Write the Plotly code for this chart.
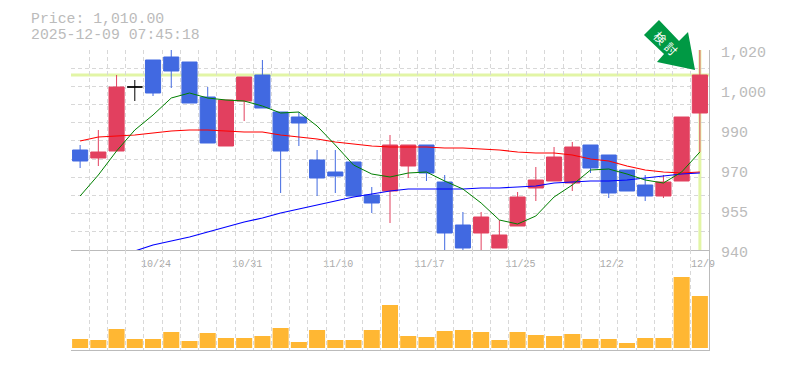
import plotly.graph_objects as go

dates = ["10/20","10/21","10/22","10/23","10/24","10/27","10/28","10/29","10/30","10/31",
         "11/4","11/5","11/6","11/7","11/10","11/11","11/12","11/13","11/14","11/17",
         "11/18","11/19","11/20","11/21","11/25","11/26","11/27","11/28","12/1","12/2",
         "12/3","12/4","12/5","12/8","12/9"]
opens = [980,976.8,979.6,1005.2,1016,1017.2,1015.2,1001.2,981.6,999.6,
         1010,995.2,993.2,976,971.2,975.2,962,963.6,973.6,982,
         967.2,950,946.8,940.8,949.6,964.8,967.6,966.8,982,978,
         972,966,961.6,967.6,994.8]
highs = [982,988,1010,1008,1016,1020,1015.2,1005.2,1000,1009.2,
         1016,995.2,995.2,980,980,975.2,965.2,986,982,982,
         970,955.2,955.2,952,963.2,973.2,981.2,983.2,982,978,
         972,970,970,993.2,1020]
lows = [972.8,973.6,979.6,999.6,1001.6,1004.8,998.8,982.8,981.6,991.6,
        996.8,962.8,981.6,961.6,962.8,961.6,954.8,950.8,968.8,967.6,
        940,940,940,940.8,949.6,959.6,967.6,963.6,970.8,960.8,
        963.6,959.6,960.8,967.6,979.2]
closes = [975.6,979.2,1005.2,1005.2,1002.8,1011.6,998.8,982.8,1000,1009.2,
          996.8,979.6,990.8,968.8,969.6,961.6,958.8,982,982,970.8,
          946.8,940.8,953.2,946,961.2,968,977.2,981.2,972.8,962.8,
          963.6,961.6,967.2,993.2,1010]
ma_green = [961.6,970,979.6,988,994,1000.8,1002.8,1000.8,1000,999.6,
            997.6,994.8,995.2,989.6,982,974,970.4,969.2,970.8,971.2,
            967.6,964.4,958.8,952,950.4,953.6,961.2,966,972,972.4,
            970.4,968,966.8,971.2,979.2]
ma_red = [983.6,985.2,985.6,986,986.8,987.6,988,988,987.6,987.2,
          987.2,986,985.2,984.4,983.2,982.4,981.6,981.2,981.2,981.2,
          980.8,980.8,980.4,980,979.2,978.8,978.8,978,976.4,975.6,
          973.6,972,971.2,970.8,971.2]
ma_blue = [None,None,None,939.6,942,943.6,945.2,947.2,949.2,951.2,
           952.8,954.8,956.4,958,959.6,961.2,962.4,963.6,964.4,964.4,
           964.4,964.4,964.8,964.8,965.2,965.6,966.8,967.2,967.6,967.6,
           968,968.8,969.6,970.4,970.8]
volumes = [9,8,19,9,9,16,7,15,10,10,12,20,6,18,8,8,18,43,12,11,
           17,18,16,8,16,13,12,14,9,9,5,10,10,71,52]
labelled_dates = ["10/24","10/31","11/10","11/17","11/25","12/2","12/9"]
price_tick_values = [1020,1004,988,972,956,940]
price_tick_labels = ["1,020","1,000","990","970","955","940"]
price_title = "Price: 1,010.00"
time_title = "2025-12-09 07:45:18"
arrow_text = "検討"

UP = "#E2405F"
DOWN = "#4169E1"
GRID = "#D8D8D8"
AXIS = "#BBBBBB"
TEXT = "#BBBBBB"
HILITE = "#E2F5A6"
FONT = "Liberation Mono"
W, H = 785, 370
L, R, T, B = 71, 709, 50, 350

def px(x):
    return (x - L) / (R - L)
def py(y):
    return (B - y) / (B - T)

x = list(range(len(dates)))
is_doji = [o == c for o, c in zip(opens, closes)]
def pick(arr, doji):
    return [v if d == doji else None for v, d in zip(arr, is_doji)]

fig = go.Figure()
for vals, col in ((ma_red, "#FF0000"), (ma_blue, "#0000FF")):
    fig.add_trace(go.Scatter(x=x, y=vals, mode="lines", line=dict(color=col, width=1.1), xaxis="x", yaxis="y", hoverinfo="skip"))
fig.add_trace(go.Scatter(x=x, y=ma_green, mode="lines", line=dict(color="#008000", width=1), xaxis="x", yaxis="y", hoverinfo="skip"))
fig.add_trace(go.Candlestick(x=x, open=pick(opens, False), high=pick(highs, False), low=pick(lows, False), close=pick(closes, False),
                             increasing=dict(line=dict(color=UP, width=1), fillcolor=UP),
                             decreasing=dict(line=dict(color=DOWN, width=1), fillcolor=DOWN),
                             whiskerwidth=0, xaxis="x", yaxis="y"))
fig.add_trace(go.Candlestick(x=x, open=pick(opens, True), high=pick(highs, True), low=pick(lows, True), close=pick(closes, True),
                             increasing=dict(line=dict(color="#000000", width=1), fillcolor="#000000"),
                             decreasing=dict(line=dict(color="#000000", width=1), fillcolor="#000000"),
                             whiskerwidth=0, xaxis="x", yaxis="y"))
fig.add_trace(go.Bar(x=x, y=volumes, marker=dict(color="#FFB733", line=dict(width=0)), width=0.88, xaxis="x2", yaxis="y2", hoverinfo="skip"))

boundaries = [i - 0.5 for i in x] + [x[-1] + 0.5]
price_grid = [940 + 80 * k / 11 for k in range(12)]
label_pos = [dates.index(d) for d in labelled_dates]
minor_x = dict(tickmode="array", tickvals=boundaries, showgrid=True, gridcolor=GRID, griddash="4px,3px", gridwidth=1, ticks="")
minor_y = dict(tickmode="array", tickvals=price_grid, showgrid=True, gridcolor=GRID, griddash="4px,3px", gridwidth=1, ticks="")

arrow_pts = [(659,20),(644,35),(664,54),(657,62),(695,70),(688,32),(679,41)]
arrow_path = "M" + " L".join(f"{px(a):.4f},{py(b):.4f}" for a, b in arrow_pts) + " Z"

fig.update_layout(
    width=W, height=H, paper_bgcolor="#FFFFFF", plot_bgcolor="#FFFFFF",
    margin=dict(l=L, r=W - R, t=T, b=H - B, autoexpand=False), showlegend=False, boxmode="overlay", boxgap=0.17, boxgroupgap=0,
    font=dict(family=FONT, color=TEXT),
    xaxis=dict(domain=[0, 1], range=[-0.5, 34.5], anchor="y", showgrid=False, zeroline=False,
               rangeslider=dict(visible=False), tickmode="array", tickvals=label_pos, ticktext=labelled_dates,
               tickfont=dict(size=10, color="#AAAAAA", family=FONT), ticks="", showline=True, linecolor=AXIS, linewidth=1,
               ticklabelshift=3, ticklabelstandoff=4, minor=minor_x),
    xaxis2=dict(domain=[0, 1], range=[-0.5, 34.5], anchor="y2", showgrid=False, zeroline=False, showticklabels=False,
                tickmode="array", tickvals=[], ticks="", showline=True, linecolor=AXIS, linewidth=1, minor=minor_x),
    yaxis=dict(domain=[1/3, 1], range=[940, 1020], side="right", anchor="x", showgrid=False, zeroline=False,
               tickmode="array", tickvals=price_tick_values, ticktext=price_tick_labels,
               tickfont=dict(size=15, color=TEXT, family=FONT), ticks="", showline=True, linecolor=AXIS, linewidth=1,
               ticklabelstandoff=8, ticklabelshift=2, minor=minor_y),
    yaxis2=dict(domain=[0, 1/3], range=[-2, 98], side="right", anchor="x2", showgrid=False, zeroline=False,
                showticklabels=False, ticks="", showline=True, linecolor=AXIS, linewidth=1),
    shapes=[
        dict(type="line", xref="x", yref="y", x0=-0.5, x1=34.5, y0=closes[-1], y1=closes[-1], layer="below", line=dict(color=HILITE, width=3)),
        dict(type="line", xref="x", yref="y", x0=x[-1], x1=x[-1], y0=940, y1=1020, layer="below", line=dict(color=HILITE, width=3)),
        dict(type="path", xref="paper", yref="paper", path=arrow_path, fillcolor="#009944", line=dict(width=0), layer="above"),
    ],
    annotations=[
        dict(text=price_title, xref="paper", yref="paper", x=px(30), y=py(18.5), xanchor="left", yanchor="middle", showarrow=False, font=dict(size=14.8, color=TEXT, family=FONT), borderpad=0),
        dict(text=time_title, xref="paper", yref="paper", x=px(30), y=py(35), xanchor="left", yanchor="middle", showarrow=False, font=dict(size=14.8, color=TEXT, family=FONT), borderpad=0),
        dict(text=arrow_text[0], xref="paper", yref="paper", x=px(661), y=py(37), xanchor="center", yanchor="middle", showarrow=False, textangle=45, font=dict(size=12, color="#FFFFFF", family="Noto Sans CJK JP")),
        dict(text=arrow_text[1], xref="paper", yref="paper", x=px(672), y=py(48), xanchor="center", yanchor="middle", showarrow=False, textangle=45, font=dict(size=12, color="#FFFFFF", family="Noto Sans CJK JP")),
    ],
)
fig.write_html("out.html", config=dict(displayModeBar=False), post_script="document.body.style.margin='0';")
